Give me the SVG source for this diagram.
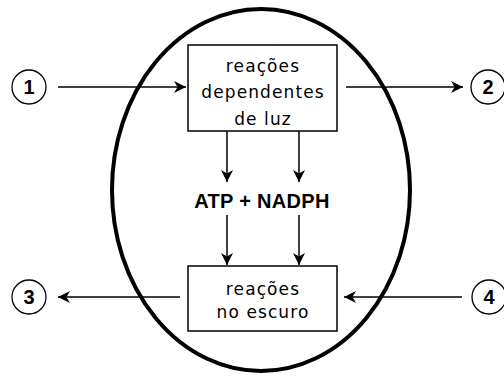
<svg xmlns="http://www.w3.org/2000/svg" width="504" height="376" viewBox="0 0 504 376">
<style>
.box{fill:#fff;stroke:#000;stroke-width:1.5}
.lbl{font-family:"DejaVu Sans",Verdana,sans-serif;font-size:17px;letter-spacing:1.1px;text-anchor:middle;fill:#000}
.num{font-family:"Liberation Sans",Arial,sans-serif;font-weight:bold;font-size:20px;text-anchor:middle;fill:#000}
.bold{font-family:"Liberation Sans",Arial,sans-serif;font-weight:bold;font-size:20px;letter-spacing:0.3px;text-anchor:middle;fill:#000}
.circ{fill:#fff;stroke:#000;stroke-width:1.3}
.con{stroke:#000;stroke-width:1.5;fill:none;marker-end:url(#ah)}
</style>
<defs>
<marker id="ah" markerUnits="userSpaceOnUse" markerWidth="12" markerHeight="12" refX="10" refY="5" orient="auto" viewBox="0 0 10 10">
<path d="M0,0 L10,5 L0,10 L3,5 z" fill="#000"/>
</marker>
</defs>
<rect width="504" height="376" fill="#fff"/>
<ellipse id="cell" cx="261" cy="190" rx="149" ry="181" fill="none" stroke="#000" stroke-width="4"/>
<g id="connectors">
<line class="con" x1="58" y1="87" x2="186" y2="87"/>
<line class="con" x1="346" y1="87" x2="463" y2="87"/>
<line class="con" x1="227" y1="131" x2="227" y2="182"/>
<line class="con" x1="299" y1="131" x2="299" y2="182"/>
<line class="con" x1="227" y1="215" x2="227" y2="265"/>
<line class="con" x1="299" y1="215" x2="299" y2="265"/>
<line class="con" x1="180" y1="297" x2="58" y2="297"/>
<line class="con" x1="462" y1="297" x2="344" y2="297"/>
</g>
<g id="light">
<rect class="box" x="188" y="45" width="149" height="86"/>
<text class="lbl" x="263" y="72">reações</text>
<text class="lbl" x="263" y="98">dependentes</text>
<text class="lbl" x="263" y="125">de luz</text>
</g>
<g id="atp">
<text class="bold" x="262" y="208">ATP + NADPH</text>
</g>
<g id="dark">
<rect class="box" x="188" y="266" width="149" height="65"/>
<text class="lbl" x="263" y="295">reações</text>
<text class="lbl" x="263" y="318">no escuro</text>
</g>
<g id="n1"><circle class="circ" cx="29" cy="87" r="17"/><text class="num" x="29" y="94">1</text></g>
<g id="n2"><circle class="circ" cx="488" cy="87" r="17"/><text class="num" x="488" y="94">2</text></g>
<g id="n3"><circle class="circ" cx="29" cy="297" r="17"/><text class="num" x="29" y="304">3</text></g>
<g id="n4"><circle class="circ" cx="489" cy="297" r="17"/><text class="num" x="489" y="304">4</text></g>
</svg>
